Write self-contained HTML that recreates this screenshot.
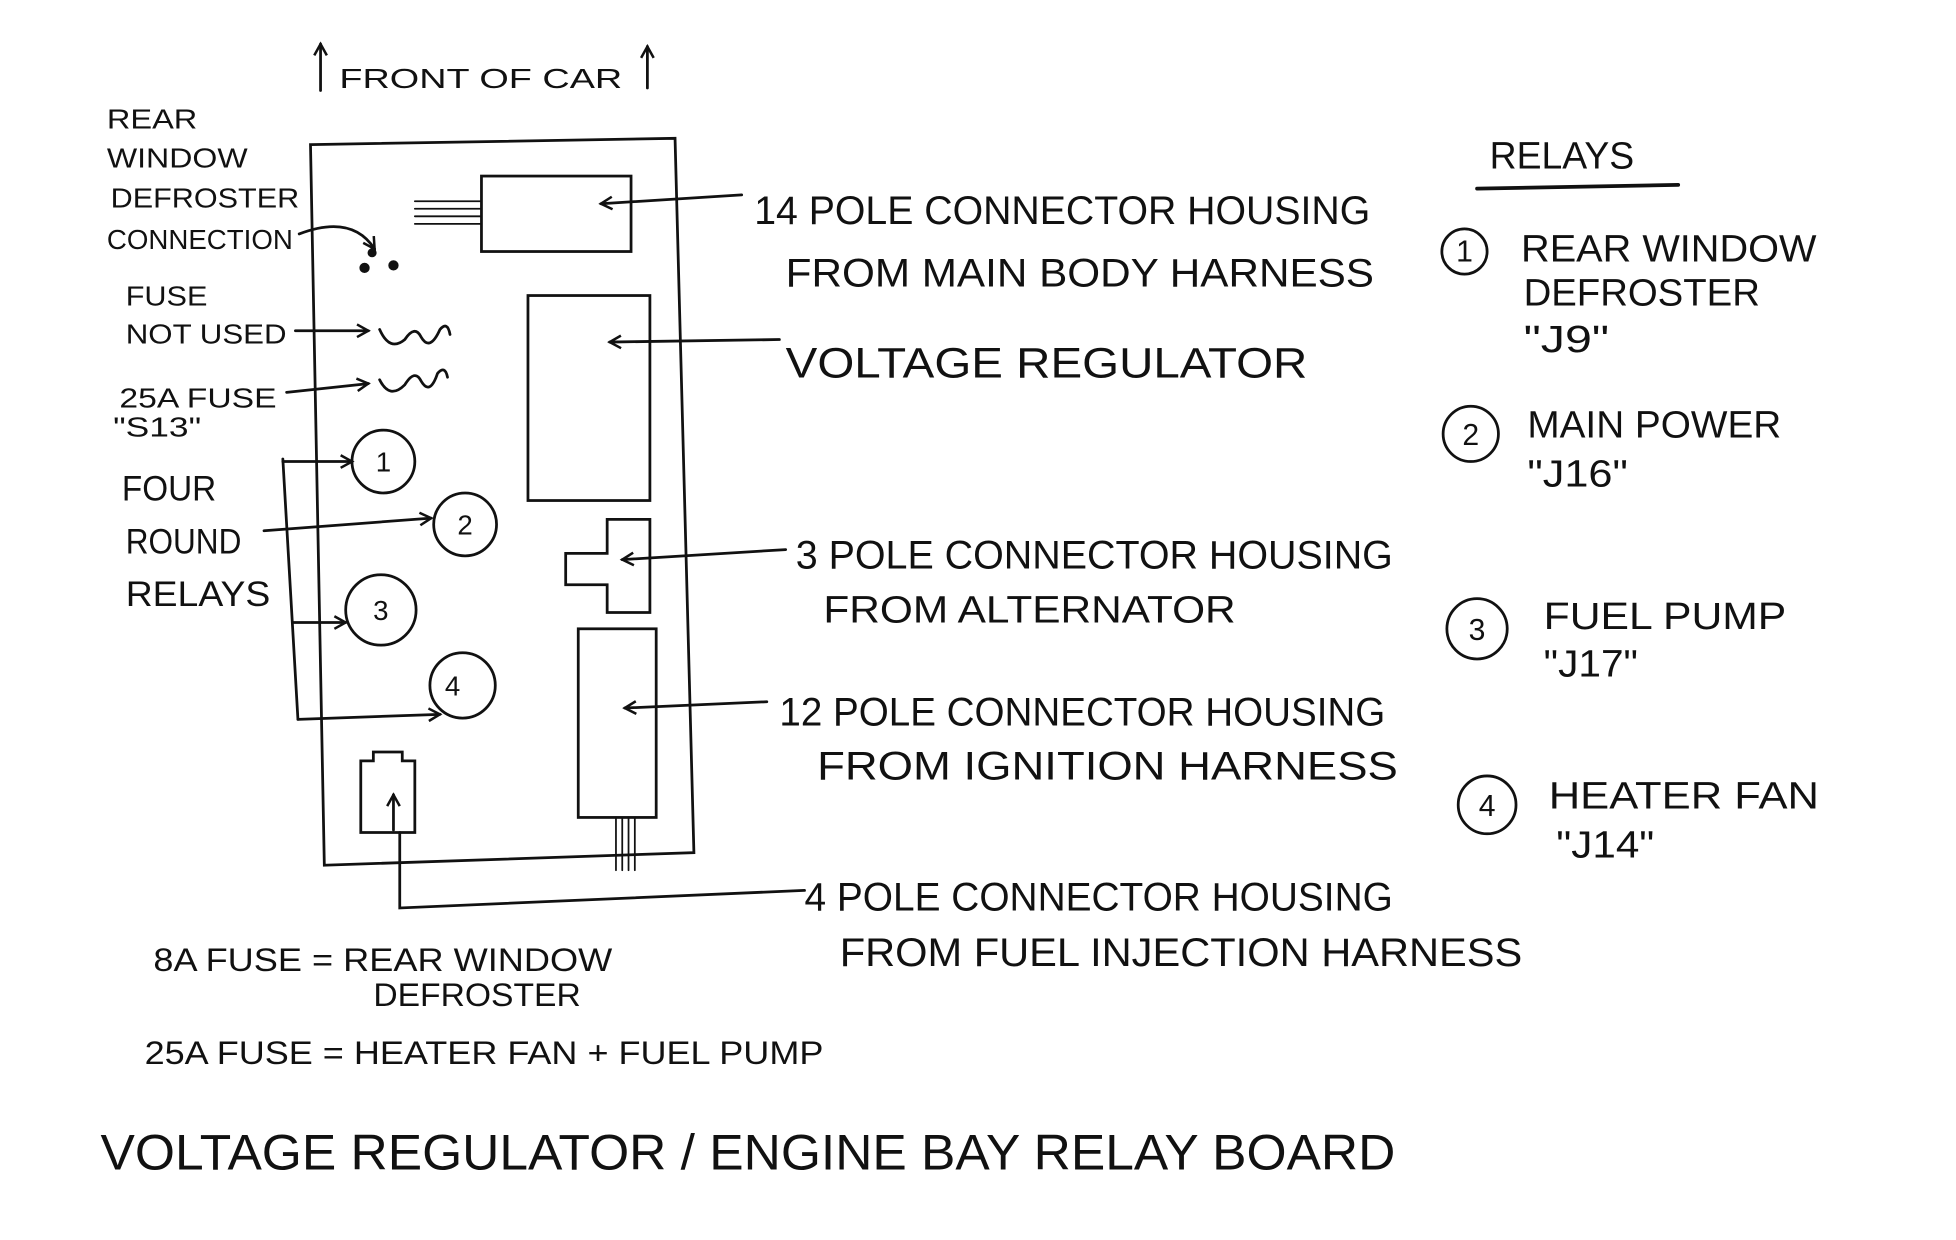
<!DOCTYPE html>
<html><head><meta charset="utf-8"><style>
html,body{margin:0;padding:0;background:#fff}
svg{display:block}
text{font-family:"Liberation Sans",sans-serif;fill:#111}
</style></head><body>
<svg width="1956" height="1240" viewBox="0 0 1556 986" preserveAspectRatio="none" xmlns="http://www.w3.org/2000/svg">
<defs><marker id="a" markerWidth="12" markerHeight="12" refX="10" refY="6" orient="auto" markerUnits="userSpaceOnUse"><path d="M1,1 L10,6 L1,11" fill="none" stroke="#111" stroke-width="2"/></marker></defs>
<g stroke="#111" stroke-width="2.2" fill="none" stroke-linecap="round">
<!-- front of car arrows -->
<line x1="255" y1="72" x2="255" y2="35" marker-end="url(#a)"/>
<line x1="515" y1="70" x2="515" y2="37" marker-end="url(#a)"/>
<!-- main board -->
<path d="M247,115 L537,110 L552,678 L258,688 Z"/>
<!-- 14 pole -->
<rect x="383" y="140" width="119" height="60"/>
<path d="M330,160H383M330,166H383M330,172H383M330,178H383" stroke-width="1.4"/>
<line x1="590" y1="155" x2="478" y2="162" marker-end="url(#a)"/>
<!-- defroster connection -->
<path d="M238,186 Q280,170 298,198" marker-end="url(#a)"/>
<circle cx="290" cy="213" r="3" fill="#111"/><circle cx="313" cy="211" r="3" fill="#111"/><circle cx="296" cy="201" r="2.5" fill="#111"/>
<!-- fuses -->
<line x1="235" y1="263" x2="293" y2="263" marker-end="url(#a)"/>
<path d="M302,262 Q310,280 322,270 Q330,258 335,268 Q342,280 350,262 Q356,255 358,266"/>
<line x1="228" y1="312" x2="293" y2="305" marker-end="url(#a)"/>
<path d="M302,302 Q310,318 322,306 Q330,293 335,303 Q342,315 348,297 Q354,290 356,300"/>
<!-- voltage regulator -->
<rect x="420" y="235" width="97" height="163"/>
<line x1="620" y1="270" x2="485" y2="272" marker-end="url(#a)"/>
<!-- relays -->
<circle cx="305" cy="367" r="25"/><circle cx="370" cy="417" r="25"/><circle cx="303" cy="485" r="28"/><circle cx="368" cy="545" r="26"/>
<line x1="225" y1="365" x2="237" y2="572"/>
<line x1="225" y1="367" x2="280" y2="367" marker-end="url(#a)"/>
<line x1="210" y1="422" x2="343" y2="412" marker-end="url(#a)"/>
<line x1="233" y1="495" x2="275" y2="495" marker-end="url(#a)"/>
<line x1="237" y1="572" x2="350" y2="568" marker-end="url(#a)"/>
<!-- 3 pole cross -->
<path d="M483,413 H517 V487 H483 V465 H450 V440 H483 Z"/>
<line x1="625" y1="437" x2="495" y2="445" marker-end="url(#a)"/>
<!-- 12 pole -->
<rect x="460" y="500" width="62" height="150"/>
<path d="M490,650V692M495,650V692M500,650V692M505,650V692" stroke-width="1.4"/>
<line x1="610" y1="558" x2="497" y2="563" marker-end="url(#a)"/>
<!-- small fuse -->
<path d="M287,605 H297 V598 H320 V605 H330 V662 H287 Z"/>
<line x1="313" y1="660" x2="313" y2="632" marker-end="url(#a)"/>
<path d="M318,662 V722 L640,708"/>
<!-- relays underline -->
<line x1="1175" y1="150" x2="1335" y2="147" stroke-width="3"/>
<circle cx="1165" cy="200" r="18"/><circle cx="1170" cy="345" r="22"/><circle cx="1175" cy="500" r="24"/><circle cx="1183" cy="640" r="23"/>
</g>
<g font-size="30">
<text x="270" y="70" font-size="22" textLength="225" lengthAdjust="spacingAndGlyphs">FRONT OF CAR</text>
<text x="85" y="102" font-size="22" textLength="72" lengthAdjust="spacingAndGlyphs">REAR</text>
<text x="85" y="133" font-size="22" textLength="112" lengthAdjust="spacingAndGlyphs">WINDOW</text>
<text x="88" y="165" font-size="22" textLength="150" lengthAdjust="spacingAndGlyphs">DEFROSTER</text>
<text x="85" y="198" font-size="22" textLength="148" lengthAdjust="spacingAndGlyphs">CONNECTION</text>
<text x="100" y="243" font-size="22" textLength="65" lengthAdjust="spacingAndGlyphs">FUSE</text>
<text x="100" y="273" font-size="22" textLength="128" lengthAdjust="spacingAndGlyphs">NOT USED</text>
<text x="95" y="324" font-size="22" textLength="125" lengthAdjust="spacingAndGlyphs">25A FUSE</text>
<text x="90" y="347" font-size="22" textLength="70" lengthAdjust="spacingAndGlyphs">"S13"</text>
<text x="97" y="398" font-size="28" textLength="75" lengthAdjust="spacingAndGlyphs">FOUR</text>
<text x="100" y="440" font-size="28" textLength="92" lengthAdjust="spacingAndGlyphs">ROUND</text>
<text x="100" y="482" font-size="28" textLength="115" lengthAdjust="spacingAndGlyphs">RELAYS</text>
<g font-size="22" text-anchor="middle"><text x="305" y="375">1</text><text x="370" y="425">2</text><text x="303" y="493">3</text><text x="360" y="553">4</text></g>
<text x="600" y="178" font-size="32" textLength="490" lengthAdjust="spacingAndGlyphs">14 POLE CONNECTOR HOUSING</text>
<text x="625" y="228" font-size="32" textLength="468" lengthAdjust="spacingAndGlyphs">FROM MAIN BODY HARNESS</text>
<text x="625" y="300" font-size="34" textLength="415" lengthAdjust="spacingAndGlyphs">VOLTAGE REGULATOR</text>
<text x="633" y="452" font-size="32" textLength="475" lengthAdjust="spacingAndGlyphs">3 POLE CONNECTOR HOUSING</text>
<text x="655" y="495" font-size="30" textLength="328" lengthAdjust="spacingAndGlyphs">FROM ALTERNATOR</text>
<text x="620" y="577" font-size="32" textLength="482" lengthAdjust="spacingAndGlyphs">12 POLE CONNECTOR HOUSING</text>
<text x="650" y="620" font-size="32" textLength="462" lengthAdjust="spacingAndGlyphs">FROM IGNITION HARNESS</text>
<text x="640" y="724" font-size="32" textLength="468" lengthAdjust="spacingAndGlyphs">4 POLE CONNECTOR HOUSING</text>
<text x="668" y="768" font-size="32" textLength="543" lengthAdjust="spacingAndGlyphs">FROM FUEL INJECTION HARNESS</text>
<text x="122" y="772" font-size="26" textLength="365" lengthAdjust="spacingAndGlyphs">8A FUSE = REAR WINDOW</text>
<text x="297" y="800" font-size="26" textLength="165" lengthAdjust="spacingAndGlyphs">DEFROSTER</text>
<text x="115" y="846" font-size="26" textLength="540" lengthAdjust="spacingAndGlyphs">25A FUSE = HEATER FAN + FUEL PUMP</text>
<text x="80" y="930" font-size="40" textLength="1030" lengthAdjust="spacingAndGlyphs">VOLTAGE REGULATOR / ENGINE BAY RELAY BOARD</text>
<text x="1185" y="134" font-size="30" textLength="115" lengthAdjust="spacingAndGlyphs">RELAYS</text>
<g font-size="24" text-anchor="middle"><text x="1165" y="208">1</text><text x="1170" y="354">2</text><text x="1175" y="509">3</text><text x="1183" y="649">4</text></g>
<text x="1210" y="208" font-size="30" textLength="235" lengthAdjust="spacingAndGlyphs">REAR WINDOW</text>
<text x="1212" y="243" font-size="30" textLength="188" lengthAdjust="spacingAndGlyphs">DEFROSTER</text>
<text x="1212" y="280" font-size="30" textLength="68" lengthAdjust="spacingAndGlyphs">"J9"</text>
<text x="1215" y="348" font-size="30" textLength="202" lengthAdjust="spacingAndGlyphs">MAIN POWER</text>
<text x="1215" y="387" font-size="30" textLength="80" lengthAdjust="spacingAndGlyphs">"J16"</text>
<text x="1228" y="500" font-size="30" textLength="193" lengthAdjust="spacingAndGlyphs">FUEL PUMP</text>
<text x="1228" y="538" font-size="30" textLength="75" lengthAdjust="spacingAndGlyphs">"J17"</text>
<text x="1232" y="643" font-size="30" textLength="215" lengthAdjust="spacingAndGlyphs">HEATER FAN</text>
<text x="1238" y="682" font-size="30" textLength="78" lengthAdjust="spacingAndGlyphs">"J14"</text>
</g>
</svg>
</body></html>
